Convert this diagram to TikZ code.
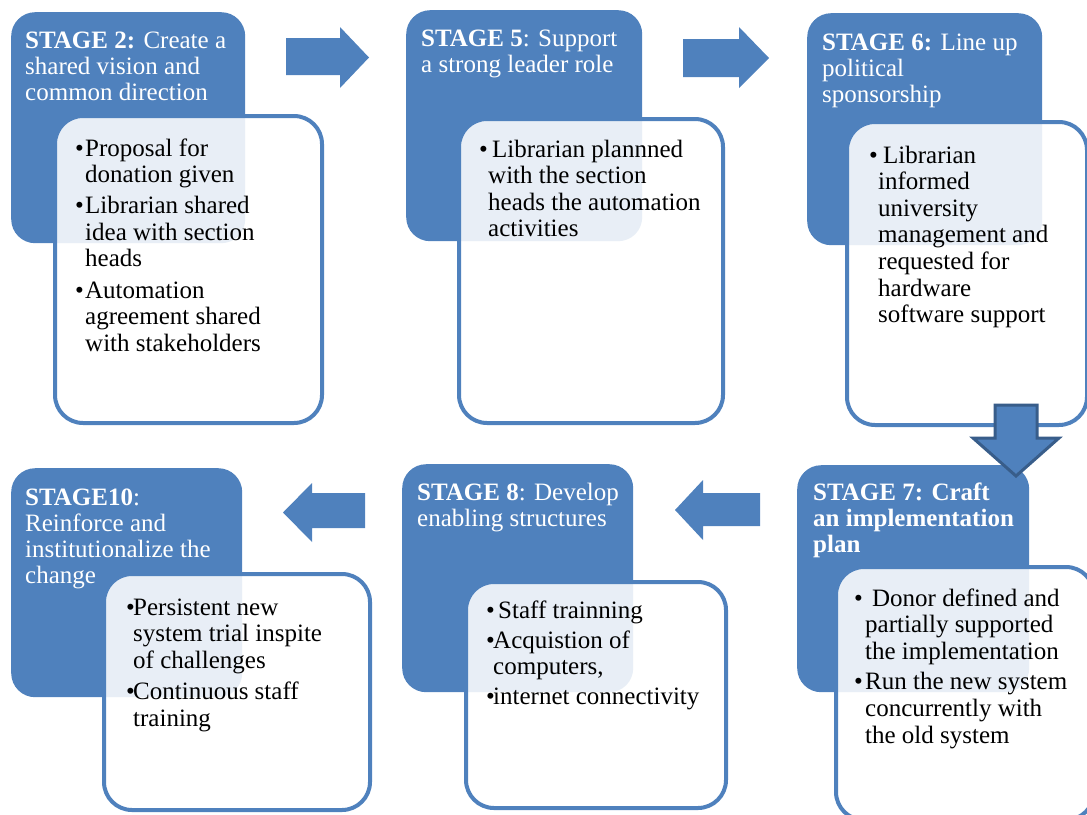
\documentclass[tikz,border=0pt]{standalone}
\usepackage{fontspec}
\setmainfont{Liberation Serif}
\definecolor{stageblue}{HTML}{4F81BD}
\definecolor{edgeblue}{HTML}{385D8A}
\newcommand\bt[1]{\makebox[#1][l]{\textbullet}}
\begin{document}
\begin{tikzpicture}[x=1pt,y=-1pt,
  headbox/.style={fill=stageblue, draw=none, rounded corners=24pt,
    anchor=north west, inner sep=0pt},
  itembox/.style={fill=white, fill opacity=0.87, draw=stageblue, line width=4pt,
    rounded corners=28pt, anchor=north west, inner sep=0pt},
  headtext/.style={anchor=base west, inner sep=0pt, text=white,
    font=\fontsize{25}{26.3}\selectfont},
  itemtext/.style={anchor=base west, inner sep=0pt, text=black,
    font=\fontsize{25}{26.6}\selectfont},
  blockarrow/.style={fill=stageblue, draw=none},
  downarrow/.style={fill=stageblue, draw=edgeblue, line width=3pt, line join=miter}
]
\useasboundingbox (0,0) rectangle (1087,814);
\clip (0,0) rectangle (1087,814);

% ---------- Stage 2 ----------
\node[headbox, minimum width=234pt, minimum height=231pt] (s2) at (11,12) {};
\node[itembox, minimum width=267pt, minimum height=307pt] (b2) at (53,114) {};
\node[headtext] (h2) at (25,48) {\begin{tabular}[t]{@{}l@{}}
  \textbf{STAGE 2:} Create a\\ shared vision and\\ common direction\end{tabular}};
\node[itemtext] (t2) at (75,156) {\begin{tabular}[t]{@{}l@{}l@{}}
  \bt{10pt} & Proposal for\\ & donation given\\[4.5pt]
  \bt{10pt} & Librarian shared\\ & idea with section\\ & heads\\[4.5pt]
  \bt{10pt} & Automation\\ & agreement shared\\ & with stakeholders\end{tabular}};

% ---------- Stage 5 ----------
\node[headbox, minimum width=236pt, minimum height=231pt] (s5) at (406,10) {};
\node[itembox, minimum width=264pt, minimum height=304pt] (b5) at (457,117) {};
\node[headtext] (h5) at (421,46) {\begin{tabular}[t]{@{}l@{}}
  \textbf{STAGE 5}: Support\\ a strong leader role\end{tabular}};
\node[itemtext] (t5) at (479,157) {\begin{tabular}[t]{@{}l@{}l@{}}
  \bt{9pt} & \hspace{4pt}Librarian plannned\\ & with the section\\ & heads the automation\\ & activities\end{tabular}};

% ---------- Stage 6 ----------
\node[headbox, minimum width=235pt, minimum height=232pt] (s6) at (807,13) {};
\node[itembox, minimum width=240pt, minimum height=303pt] (b6) at (845,120) {};
\node[headtext] (h6) at (822,50) {\begin{tabular}[t]{@{}l@{}}
  \textbf{STAGE 6:} Line up\\ political\\ sponsorship\end{tabular}};
\node[itemtext] (t6) at (869,163) {\begin{tabular}[t]{@{}l@{}l@{}}
  \bt{9pt} & \hspace{5pt}Librarian\\ & informed\\ & university\\ & management and\\
  & requested for\\ & hardware\\ & software support\end{tabular}};

% ---------- Stage 7 ----------
\node[headbox, minimum width=232pt, minimum height=227pt] (s7) at (797,465) {};
\node[itembox, minimum width=258pt, minimum height=253pt] (b7) at (834,565) {};
\node[headtext] (h7) at (813,500) {\begin{tabular}[t]{@{}l@{}}
  \textbf{STAGE 7: Craft}\\ \textbf{an implementation}\\ \textbf{plan}\end{tabular}};
\node[itemtext] (t7) at (854,606) {\begin{tabular}[t]{@{}l@{}l@{}}
  \bt{11pt} & \hspace{7pt}Donor defined and\\ & partially supported\\ & the implementation\\[4pt]
  \bt{11pt} & Run the new system\\ & concurrently with\\ & the old system\end{tabular}};

% ---------- Stage 8 ----------
\node[headbox, minimum width=231pt, minimum height=228pt] (s8) at (402,464) {};
\node[itembox, minimum width=260pt, minimum height=226pt] (b8) at (464,580) {};
\node[headtext] (h8) at (417,500) {\begin{tabular}[t]{@{}l@{}}
  \textbf{STAGE 8}: Develop\\ enabling structures\end{tabular}};
\node[itemtext] (t8) at (486,618) {\begin{tabular}[t]{@{}l@{}l@{}}
  \bt{7pt} & \hspace{5pt}Staff trainning\\[3.5pt]
  \bt{7pt} & Acquistion of\\ & computers,\\[3.5pt]
  \bt{7pt} & internet connectivity\end{tabular}};

% ---------- Stage 10 ----------
\node[headbox, minimum width=231pt, minimum height=229pt] (s10) at (11,468) {};
\node[itembox, minimum width=266pt, minimum height=236pt] (b10) at (102,572) {};
\node[headtext] (h10) at (25,505) {\begin{tabular}[t]{@{}l@{}}
  \textbf{STAGE10}:\\ Reinforce and\\ institutionalize the\\ change\end{tabular}};
\node[itemtext] (t10) at (126,615) {\begin{tabular}[t]{@{}l@{}l@{}}
  \bt{7pt} & Persistent new\\ & system trial inspite\\ & of challenges\\[5pt]
  \bt{7pt} & Continuous staff\\ & training\end{tabular}};

% ---------- block arrows between stages ----------
\fill[blockarrow] (286,38) -- (340,38) -- (340,27) -- (369,57.5) -- (340,88)
  -- (340,75) -- (286,75) -- cycle;
\fill[blockarrow] (683,39) -- (739,39) -- (739,27) -- (769,58) -- (739,88)
  -- (739,77) -- (683,77) -- cycle;
\filldraw[downarrow] (995,405) -- (1037,405) -- (1037,438) -- (1059,438)
  -- (1016,476) -- (973,438) -- (995,438) -- cycle;
\fill[blockarrow] (760,493) -- (703,493) -- (703,480) -- (675,510) -- (703,540)
  -- (703,526) -- (760,526) -- cycle;
\fill[blockarrow] (365,493) -- (312,493) -- (312,483) -- (283,512.5) -- (312,542)
  -- (312,528) -- (365,528) -- cycle;
\end{tikzpicture}
\end{document}
